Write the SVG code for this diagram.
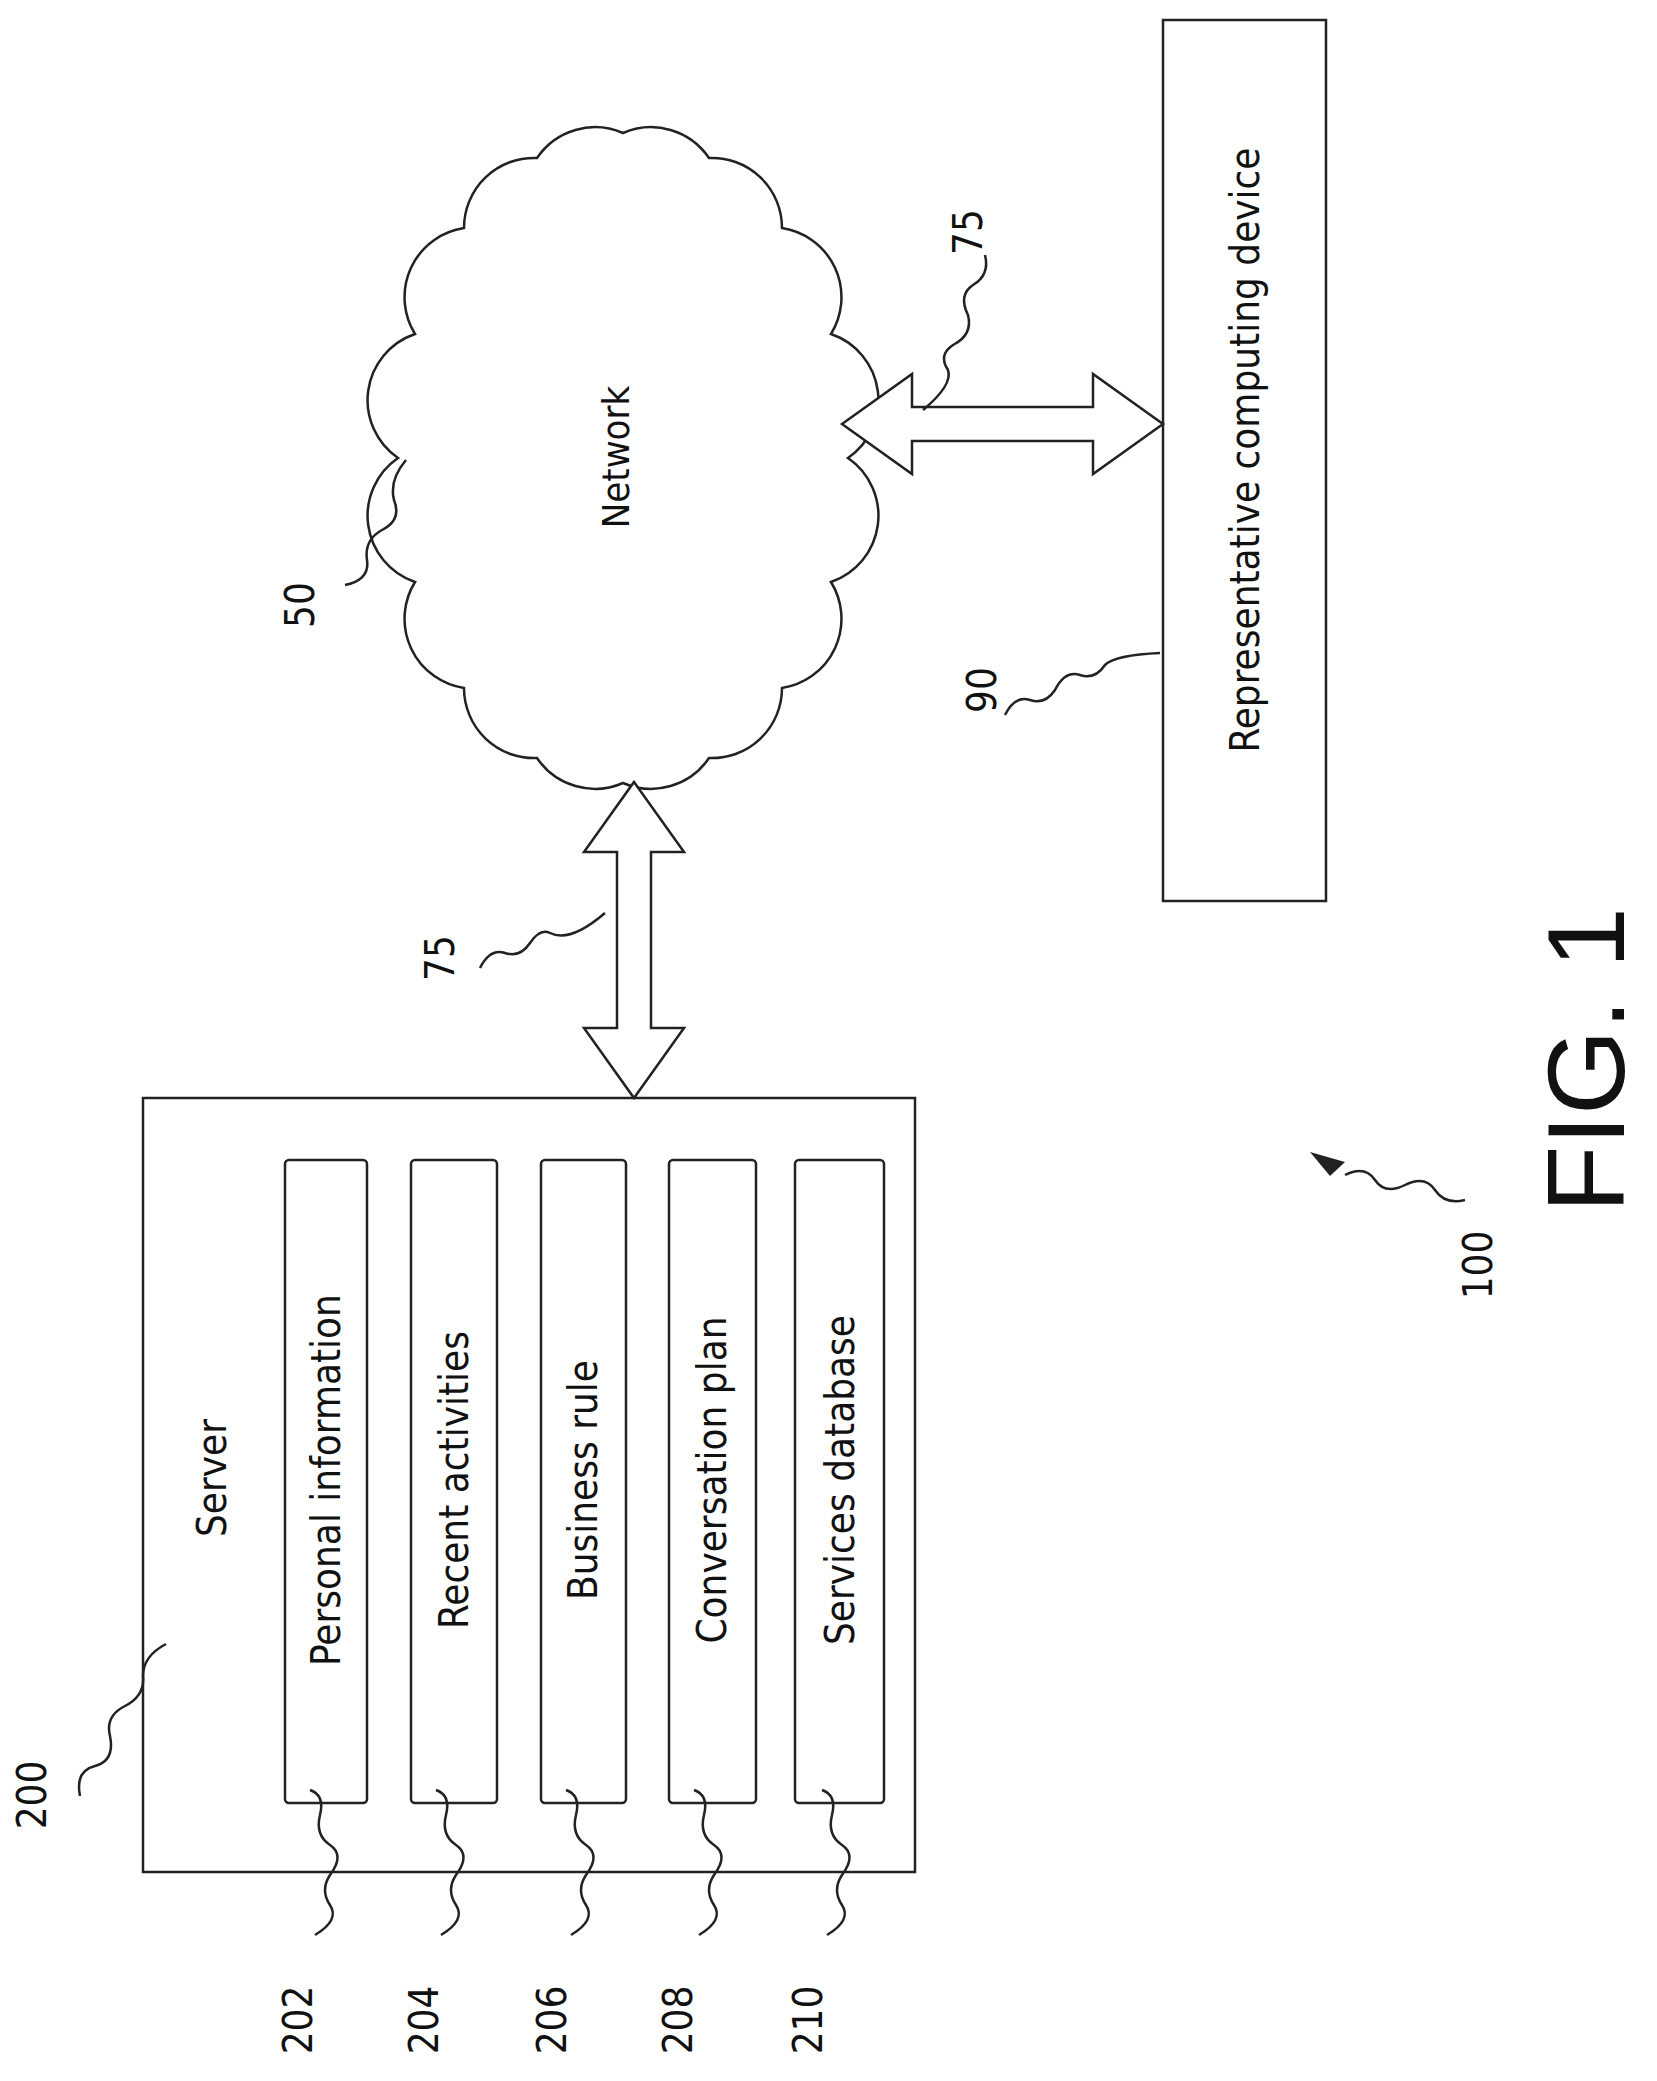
<svg xmlns="http://www.w3.org/2000/svg" width="1657" height="2081" viewBox="0 0 1657 2081">
<style>
.b{fill:none;stroke:#222;stroke-width:2.5}
.a{fill:#fff;stroke:#222;stroke-width:2.5}
.l{fill:none;stroke:#222;stroke-width:2.5}
text{font-family:"DejaVu Sans Condensed","DejaVu Sans",sans-serif;fill:#111;text-anchor:middle;dominant-baseline:central}
.t{font-size:40px}
.n{font-size:40px}
</style>
<rect width="1657" height="2081" fill="#fff"/>
<g id="server">
<rect class="b" x="143" y="1098" width="772" height="774"/>
<text class="t" transform="translate(212,1478) rotate(-90)">Server</text>
</g>
<g id="n202"><rect class="b" x="285" y="1160" width="82" height="643" rx="4"/><text class="t" transform="translate(326,1480) rotate(-90)">Personal information</text></g>
<g id="n204"><rect class="b" x="411" y="1160" width="86" height="643" rx="4"/><text class="t" transform="translate(454,1480) rotate(-90)">Recent activities</text></g>
<g id="n206"><rect class="b" x="541" y="1160" width="85" height="643" rx="4"/><text class="t" transform="translate(583,1480) rotate(-90)">Business rule</text></g>
<g id="n208"><rect class="b" x="669" y="1160" width="87" height="643" rx="4"/><text class="t" transform="translate(712,1480) rotate(-90)">Conversation plan</text></g>
<g id="n210"><rect class="b" x="795" y="1160" width="89" height="643" rx="4"/><text class="t" transform="translate(840,1480) rotate(-90)">Services database</text></g>
<g id="network">
<path class="b" d="M848,458 A70,70 0 0 1 831,582 A70,70 0 0 1 782,688 A70,70 0 0 1 709,758 A70,70 0 0 1 623,783 A70,70 0 0 1 537,758 A70,70 0 0 1 464,688 A70,70 0 0 1 415,582 A70,70 0 0 1 398,458 A70,70 0 0 1 415,334 A70,70 0 0 1 464,228 A70,70 0 0 1 537,158 A70,70 0 0 1 623,133 A70,70 0 0 1 709,158 A70,70 0 0 1 782,228 A70,70 0 0 1 831,334 A70,70 0 0 1 848,458 Z"/>
<text style="font-size:38px" transform="translate(616,457) rotate(-90)">Network</text>
</g>
<g id="device">
<rect class="b" x="1163" y="20" width="163" height="881"/>
<text class="t" transform="translate(1245,450) rotate(-90)">Representative computing device</text>
</g>
<g id="connectors">
<polygon class="a" points="634,782 684,852 651,852 651,1028 684,1028 634,1098 584,1028 617,1028 617,852 584,852"/>
<polygon class="a" points="842,424 912,374 912,407 1093,407 1093,374 1163,424 1093,474 1093,441 912,441 912,474"/>
<path class="l" d="M345,585 q25,-5 22,-25 q-3,-20 15,-30 q20,-10 12,-30 q-5,-20 12,-40"/>
<path class="l" d="M480,968 q10,-20 25,-15 q15,5 25,-10 q10,-15 20,-10 q20,10 55,-20"/>
<path class="l" d="M985,255 q5,20 -12,30 q-15,10 -5,30 q5,20 -15,30 q-15,10 -5,25 q5,15 -25,40"/>
<path class="l" d="M1005,715 q10,-20 25,-15 q15,5 25,-10 q10,-20 25,-15 q15,5 25,-10 q10,-10 55,-12"/>
<path class="l" d="M80,1796 q-5,-25 15,-30 q20,-5 15,-30 q-5,-20 15,-30 q20,-10 18,-30 q0,-20 23,-32"/>
<path class="l" d="M1465,1200 q-20,5 -30,-10 q-10,-15 -30,-5 q-20,10 -30,-5 q-10,-15 -30,-5"/>
<polygon points="1310,1152 1345,1162 1330,1176" fill="#222"/>
<path class="l" d="M310,1790 q15,5 10,25 q-5,20 10,30 q15,10 0,30 q-10,15 0,30 q10,15 -15,30"/>
<path class="l" d="M436,1790 q15,5 10,25 q-5,20 10,30 q15,10 0,30 q-10,15 0,30 q10,15 -15,30"/>
<path class="l" d="M566,1790 q15,5 10,25 q-5,20 10,30 q15,10 0,30 q-10,15 0,30 q10,15 -15,30"/>
<path class="l" d="M694,1790 q15,5 10,25 q-5,20 10,30 q15,10 0,30 q-10,15 0,30 q10,15 -15,30"/>
<path class="l" d="M822,1790 q15,5 10,25 q-5,20 10,30 q15,10 0,30 q-10,15 0,30 q10,15 -15,30"/>
</g>
<g id="labels">
<text class="n" transform="translate(300,605) rotate(-90)">50</text>
<text class="n" transform="translate(440,958) rotate(-90)">75</text>
<text class="n" transform="translate(968,232) rotate(-90)">75</text>
<text class="n" transform="translate(982,690) rotate(-90)">90</text>
<text class="n" transform="translate(32,1795) rotate(-90)">200</text>
<text class="n" transform="translate(1478,1265) rotate(-90)">100</text>
<text class="n" transform="translate(298,2020) rotate(-90)">202</text>
<text class="n" transform="translate(424,2020) rotate(-90)">204</text>
<text class="n" transform="translate(552,2020) rotate(-90)">206</text>
<text class="n" transform="translate(678,2020) rotate(-90)">208</text>
<text class="n" transform="translate(808,2020) rotate(-90)">210</text>
<text style="font-size:110px;font-family:'Liberation Sans',sans-serif" transform="translate(1585,1060) rotate(-90)">FIG. 1</text>
</g>
</svg>
